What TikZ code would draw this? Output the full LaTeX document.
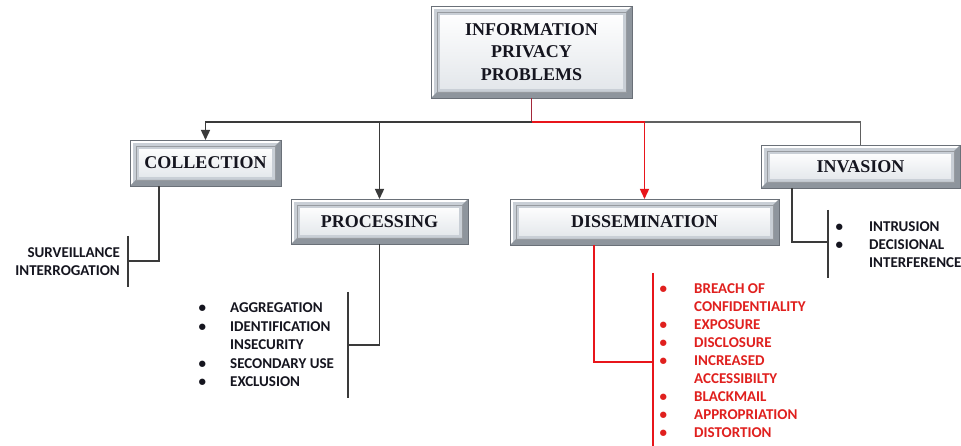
\documentclass[tikz,border=0pt]{standalone}
\usepackage{fontspec}
\setmainfont{Liberation Serif}
\newfontfamily\listfont{Carlito}
\usetikzlibrary{arrows.meta}
\definecolor{linec}{HTML}{3A3A3A}
\definecolor{graylinec}{HTML}{606060}
\definecolor{redc}{HTML}{E8151B}
\definecolor{darkred}{HTML}{A3283A}
\definecolor{textred}{HTML}{E0201E}
\definecolor{framec}{HTML}{C9CFD6}
\definecolor{framedark}{HTML}{8E959D}
\definecolor{edgec}{HTML}{6A7078}
\definecolor{innerc}{HTML}{E2E6EA}
\definecolor{titlec}{HTML}{15151F}
\begin{document}
\begin{tikzpicture}[x=1pt,y=-1pt,
  bevel/.style={draw=framec, line width=6pt, top color=white, bottom color=innerc, inner sep=0pt, text=titlec, font=\bfseries\fontsize{18}{22.5}\selectfont, align=center},
  conn/.style={draw=linec, line width=1.4pt},
  tip/.style={-{Triangle[width=9pt,length=10pt]}, shorten >=3pt},
  lst/.style={inner sep=0pt, font=\listfont\bfseries\fontsize{15}{18}\selectfont}]
\fill[white] (0,0) rectangle (961,446);
\useasboundingbox (0,0) rectangle (961,446);

% boxes
\node[bevel, minimum width=189pt, minimum height=80pt] (top) at (531.5,52) {INFORMATION\\PRIVACY\\PROBLEMS};
\node[bevel, minimum width=139pt, minimum height=34pt] (coll) at (205.5,163) {COLLECTION};
\node[bevel, minimum width=165pt, minimum height=33pt] (proc) at (379.5,221.5) {PROCESSING};
\node[bevel, minimum width=257pt, minimum height=34pt] (diss) at (644.5,222) {DISSEMINATION};
\node[bevel, minimum width=187pt, minimum height=31pt] (inv) at (860.5,166.5) {INVASION};

\foreach \n in {top,coll,proc,diss,inv} {
  \fill[framedark] ([shift={(3pt,3pt)}]\n.north east) -- ([shift={(3pt,-3pt)}]\n.south east) -- ([shift={(-3pt,-3pt)}]\n.south west) -- ([shift={(3pt,3pt)}]\n.south west) -- ([shift={(-3pt,3pt)}]\n.south east) -- ([shift={(-3pt,-3pt)}]\n.north east) -- cycle;
  \draw[edgec, line width=0.8pt] ([shift={(-3pt,3pt)}]\n.north west) rectangle ([shift={(3pt,-3pt)}]\n.south east);
  \draw[edgec!70, line width=0.6pt] ([shift={(3pt,-3pt)}]\n.north west) rectangle ([shift={(-3pt,3pt)}]\n.south east);
}

% main connectors
\coordinate (j) at (531.5,122);
\coordinate (pj) at (379.5,122);
\draw[conn, draw=darkred] ([yshift=-3pt]top.south) -- (j);
\draw[conn, tip] (j) -| (coll.north);
\draw[conn, tip] (pj) -- (proc.north);
\draw[conn, draw=graylinec] (diss.north |- j) -| ([yshift=3pt]inv.north);
\draw[conn, draw=redc, tip] (j) -| (diss.north);

% branches
\coordinate (cb) at (128,261);
\coordinate (cb1) at (128,236);
\coordinate (cb2) at (128,287);
\draw[conn] ([xshift=-46.5pt,yshift=-3pt]coll.south) |- (cb);
\draw[conn] (cb1) -- (cb2);

\coordinate (pb) at (348,345);
\coordinate (pb1) at (348,292);
\coordinate (pb2) at (348,398);
\draw[conn] ([yshift=-3pt]proc.south) |- (pb);
\draw[conn] (pb1) -- (pb2);

\coordinate (db) at (653,362);
\coordinate (db1) at (653,273);
\coordinate (db2) at (653,446);
\draw[conn, draw=redc] ([xshift=-50.5pt,yshift=-3pt]diss.south) |- (db);
\draw[conn, draw=redc] (db1) -- (db2);

\coordinate (ib) at (828,242);
\coordinate (ib1) at (828,210);
\coordinate (ib2) at (828,278);
\draw[conn] ([xshift=-68.5pt,yshift=-3pt]inv.south) |- (ib);
\draw[conn] (ib1) -- (ib2);

% lists
\node[lst, anchor=base east, text=titlec] (clist) at (120,257.5) {\begin{tabular}[t]{@{}r@{}}SURVEILLANCE\\INTERROGATION\end{tabular}};

\node[lst, anchor=base west, text=titlec] (plist) at (198.5,312.5) {\fontsize{15}{18.5}\selectfont\begin{tabular}[t]{@{}p{31.5pt}@{}l@{}}
\textbullet & AGGREGATION\\
\textbullet & IDENTIFICATION\\
 & INSECURITY\\
\textbullet & SECONDARY USE\\
\textbullet & EXCLUSION
\end{tabular}};

\node[lst, anchor=base west, text=textred] (dlist) at (659.5,293.5) {\begin{tabular}[t]{@{}p{34.5pt}@{}l@{}}
\textbullet & BREACH OF\\
 & CONFIDENTIALITY\\
\textbullet & EXPOSURE\\
\textbullet & DISCLOSURE\\
\textbullet & INCREASED\\
 & ACCESSIBILTY\\
\textbullet & BLACKMAIL\\
\textbullet & APPROPRIATION\\
\textbullet & DISTORTION
\end{tabular}};

\node[lst, anchor=base west, text=titlec] (ilist) at (835.5,231.5) {\begin{tabular}[t]{@{}p{33.5pt}@{}l@{}}
\textbullet & INTRUSION\\
\textbullet & DECISIONAL\\
 & INTERFERENCE
\end{tabular}};
\end{tikzpicture}
\end{document}
